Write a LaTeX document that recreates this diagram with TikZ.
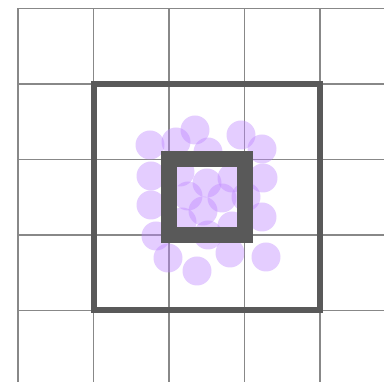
\documentclass[tikz,border=0pt]{standalone}
\usepackage[dvipsnames]{xcolor}
\usetikzlibrary{calc}
\definecolor{boxgray}{RGB}{89,89,89}
\definecolor{linegray}{RGB}{136,136,136}
\definecolor{blobviolet}{RGB}{190,135,255}
\tikzset{
  gridline/.style={draw=linegray, line width=1.1pt},
  blob/.style={fill=blobviolet, fill opacity=0.42},
  bigbox/.style={draw=boxgray, line width=6pt},
  smallbox/.style={draw=boxgray, line width=16pt}
}

\begin{document}
\begin{tikzpicture}[x=1pt, y=-1pt]
  \def\cell{75.5}   % grid spacing
  \def\r{14.5}      % disc radius

  \useasboundingbox (0,0) rectangle (384,382);
  \clip (0,0) rectangle (384,382);

  % Grid corners
  \coordinate (O) at (18,8.5);
  \coordinate (A) at ($(O)+(\cell,\cell)$);
  \coordinate (B) at ($(O)+(4*\cell,4*\cell)$);
  \coordinate (C) at ($(O)+(2*\cell,2*\cell)$);
  \coordinate (D) at ($(O)+(3*\cell,3*\cell)$);

  % Grid lines
  \foreach \i in {0,...,4} {
    \draw[gridline] ($(O)+(\i*\cell,0)$) -- ++(0,400);
    \draw[gridline] ($(O)+(0,\i*\cell)$) -- ++(400,0);
  }

  % Discs
  \foreach \x/\y in {150/145, 176/142, 195/130, 241/135, 262/149, 208/152,
                     151/176, 263/178, 151/205, 262/217, 156/236, 168/258,
                     197/271, 230/253, 266/257, 208/235,
                     207/183, 222/198, 246/197, 203/211, 188/196,
                     180/172, 232/178, 182/222, 232/226}
    \fill[blob] (\x,\y) circle (\r);

  % Squares
  \draw[bigbox] (A) rectangle (B);
  \draw[smallbox] (C) rectangle (D);
\end{tikzpicture}
\end{document}
